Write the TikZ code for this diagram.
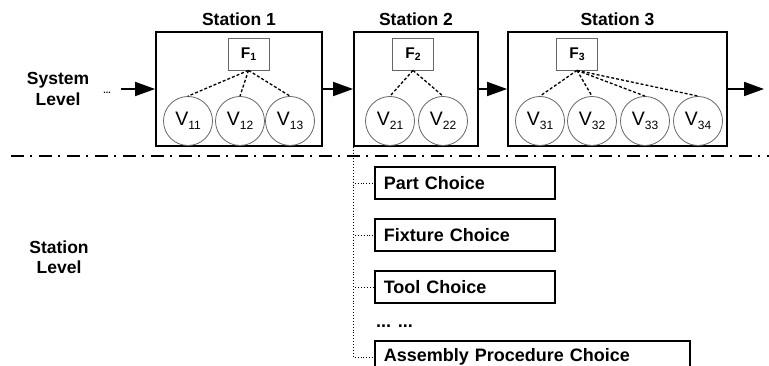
\documentclass[tikz,border=0pt]{standalone}
\usepackage{fontspec}
\setmainfont{Liberation Sans}
\usetikzlibrary{arrows.meta}

\newcommand{\vsub}[1]{\raisebox{-0.35ex}{\fontsize{12}{12}\selectfont #1}}
\newcommand{\fsub}[1]{\raisebox{-0.3ex}{\fontsize{10.5}{10.5}\selectfont\bfseries #1}}

\begin{document}
\begin{tikzpicture}[x=1pt,y=-1pt,>={Triangle[length=20pt,width=14pt]},
                    every node/.style={inner sep=0pt}]
  \tikzstyle{station}=[draw,line width=1.8pt,minimum height=114pt]
  \tikzstyle{title}=[font=\fontsize{17.5}{20}\selectfont\bfseries]
  \tikzstyle{lvltext}=[font=\fontsize{17.5}{20.5}\selectfont\bfseries,
                       text width=90pt,align=center]
  \tikzstyle{fbox}=[draw=black!60,line width=0.8pt,minimum width=41pt,
                    minimum height=32pt,font=\fontsize{15.5}{18}\selectfont\bfseries]
  \tikzstyle{var}=[circle,draw=black!60,line width=0.8pt,minimum size=49pt,
                   font=\fontsize{19.5}{22}\selectfont]
  \tikzstyle{link}=[dashed,dash pattern=on 3pt off 2pt,line width=1.3pt]
  \tikzstyle{flow}=[->,line width=1.8pt]
  \tikzstyle{choice}=[draw,line width=1.6pt,anchor=west,inner xsep=9pt,
                      minimum height=32pt,align=left,
                      font=\fontsize{18}{20}\selectfont\bfseries]
  \tikzstyle{tree}=[dotted,line width=0.9pt]

  \useasboundingbox (0,0) rectangle (769,366);

  % system level
  \node[lvltext] (sys) at (58,89) {System\\Level};
  \node[font=\bfseries\small,anchor=base] (dots) at (107,94) {...};
  \coordinate (inL) at (121,89);
  \coordinate (outR) at (764,89);

  \node[station,minimum width=166pt] (S1) at (239,89) {};
  \node[station,minimum width=124pt] (S2) at (416,89) {};
  \node[station,minimum width=219pt] (S3) at (617.5,89) {};

  \node[title] (T1) at (239,19) {Station 1};
  \node[title] (T2) at (416,19) {Station 2};
  \node[title] (T3) at (617.5,19) {Station 3};

  \node[fbox] (F1) at (248.5,54) {F\fsub{1}};
  \node[fbox] (F2) at (413,54) {F\fsub{2}};
  \node[fbox] (F3) at (577,54) {F\fsub{3}};

  \node[var] (V11) at (188,121) {V\vsub{11}};
  \node[var] (V12) at (240,121) {V\vsub{12}};
  \node[var] (V13) at (290,121) {V\vsub{13}};
  \node[var] (V21) at (390,121) {V\vsub{21}};
  \node[var] (V22) at (443,121) {V\vsub{22}};
  \node[var] (V31) at (540,121) {V\vsub{31}};
  \node[var] (V32) at (592,121) {V\vsub{32}};
  \node[var] (V33) at (645,121) {V\vsub{33}};
  \node[var] (V34) at (698,121) {V\vsub{34}};

  \path[link] (F1.south) edge (V11.north) edge (V12.north) edge (V13.north)
              (F2.south) edge (V21.north) edge (V22.north)
              (F3.south) edge (V31.north) edge (V32.north)
                         edge (V33.north) edge (V34.north);

  \draw[flow] (inL) -- (S1.west);
  \draw[flow] (S1.east) -- (S2.west);
  \draw[flow] (S2.east) -- (S3.west);
  \draw[flow] (S3.east) -- (outR);

  % separator
  \coordinate (sepL) at (11,156);
  \coordinate (sepR) at (769,156);
  \draw[line width=1.5pt,dash pattern=on 13pt off 6pt on 2pt off 7pt] (sepL) -- (sepR);

  % station level
  \node[lvltext] (stl) at (59,257) {Station\\Level};

  \node[choice,text width=162pt] (part) at (374,183) {Part Choice};
  \node[choice,text width=162pt] (fix) at (374,235) {Fixture Choice};
  \node[choice,text width=162pt] (tool) at (374,287) {Tool Choice};
  \node[font=\fontsize{18}{20}\selectfont\bfseries,anchor=base west] (more) at (376,327) {... ...};
  \node[choice,text width=297pt] (asm) at (374,357) {Assembly Procedure Choice};

  \draw[tree] (S2.south west) |- (part.west);
  \draw[tree] (S2.south west) |- (fix.west);
  \draw[tree] (S2.south west) |- (tool.west);
  \draw[tree] (S2.south west) |- (asm.west);
\end{tikzpicture}
\end{document}
